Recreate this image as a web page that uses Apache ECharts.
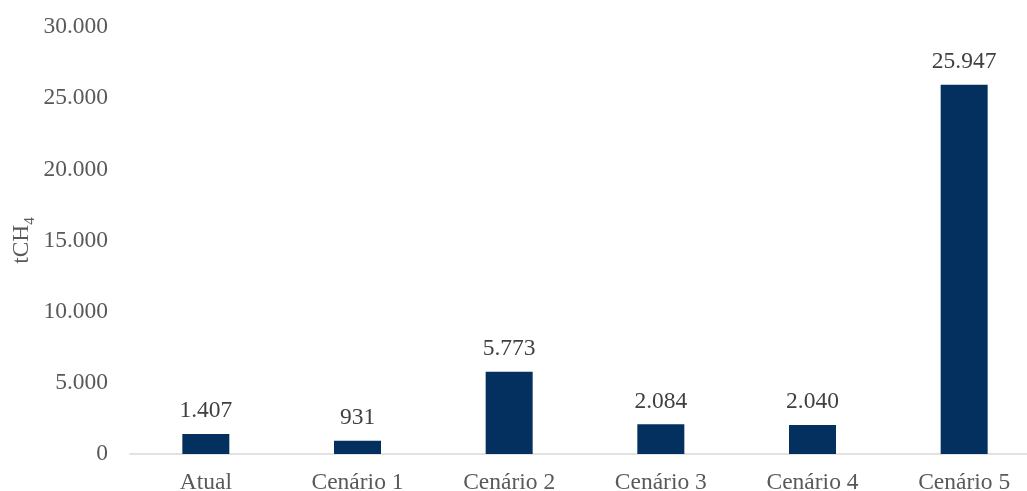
<!DOCTYPE html>
<html>
<head>
<meta charset="utf-8">
<script src="https://cdn.jsdelivr.net/npm/echarts@6/dist/echarts.min.js"></script>
<style>
  html, body { margin: 0; padding: 0; background: #fff; }
  #chart { width: 1027px; height: 491px; }
</style>
</head>
<body>
<div id="chart"></div>
<script>
// Methane emissions per scenario (tCH4)
const categories = ['Atual', 'Cenário 1', 'Cenário 2', 'Cenário 3', 'Cenário 4', 'Cenário 5'];
const emissions = [1407, 931, 5773, 2084, 2040, 25947];
const yTicks = [0, 5000, 10000, 15000, 20000, 25000, 30000];

const fmt = v => String(Math.round(v)).replace(/\B(?=(\d{3})+(?!\d))/g, '.');
const serif = '"Liberation Serif", "Times New Roman", serif';
const fs = 23.5;

const chart = echarts.init(document.getElementById('chart'));
chart.setOption({
  animation: false,
  grid: { left: 130, width: 910, top: 27, bottom: 37, outerBoundsMode: 'none', containLabel: false },
  xAxis: {
    type: 'category',
    data: categories,
    axisLine: { lineStyle: { color: '#d9d9d9', width: 1.5 } },
    axisTick: { show: false },
    axisLabel: { color: '#595959', fontFamily: serif, fontSize: fs, margin: 17 }
  },
  yAxis: {
    type: 'value',
    min: yTicks[0],
    max: yTicks[yTicks.length - 1],
    interval: yTicks[1] - yTicks[0],
    splitLine: { show: false },
    axisLine: { show: false },
    axisTick: { show: false },
    axisLabel: { color: '#595959', fontFamily: serif, fontSize: fs, margin: 22, formatter: fmt },
    name: '{a|tCH}{b|4}',
    nameLocation: 'middle',
    nameMoveOverlap: false,
    nameGap: 96,
    nameRotate: 90,
    nameTextStyle: {
      rich: {
        a: { fontFamily: serif, fontSize: fs, color: '#595959', lineHeight: 28, verticalAlign: 'bottom' },
        b: { fontFamily: serif, fontSize: 15, color: '#595959', lineHeight: 28, verticalAlign: 'bottom', padding: [0, 0, -4, 0] }
      }
    }
  },
  series: [{
    type: 'bar',
    data: emissions,
    barWidth: 47,
    itemStyle: { color: '#03305f' },
    label: {
      show: true,
      position: 'top',
      distance: 11,
      color: '#404040',
      fontFamily: serif,
      fontSize: fs,
      formatter: p => fmt(p.value)
    }
  }]
});
</script>
</body>
</html>
